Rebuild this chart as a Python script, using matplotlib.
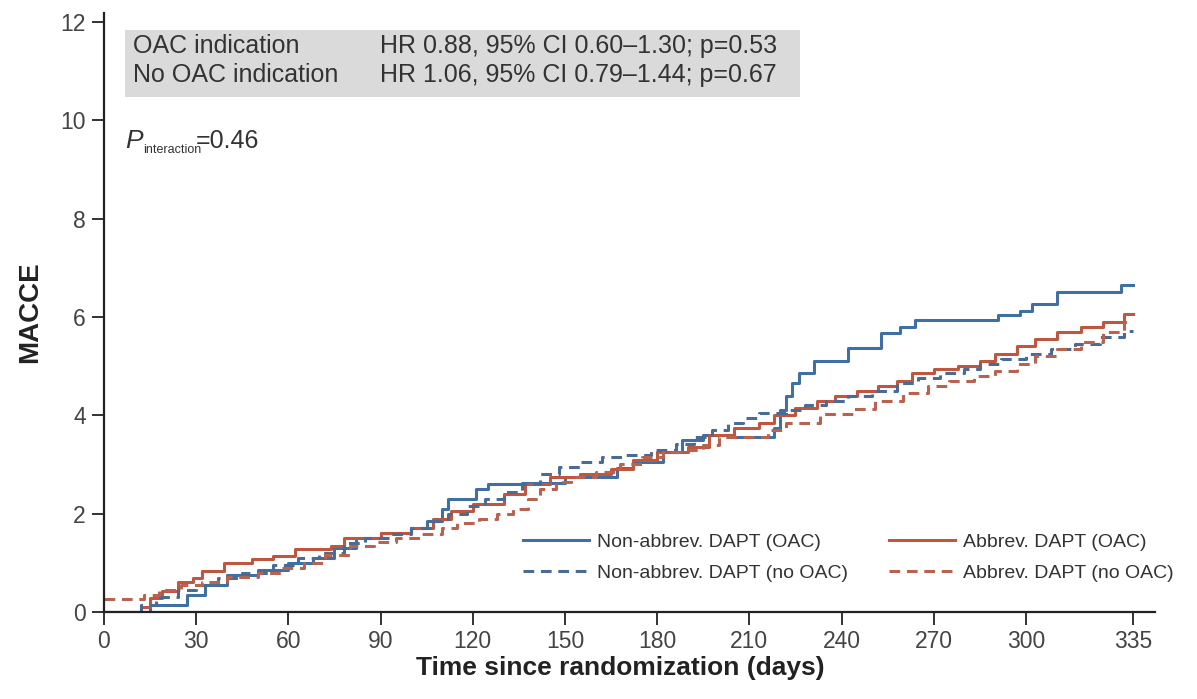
import matplotlib
matplotlib.use("Agg")
import matplotlib.pyplot as plt
from matplotlib.patches import Rectangle

plt.rcParams['font.family'] = ['Liberation Sans', 'DejaVu Sans']

# ---- data (days, cumulative MACCE %) ----
blue_solid_t = [0, 15, 27, 33, 40, 50, 60, 68, 75, 82, 90, 100, 105, 110, 112, 121, 125, 136,
                150, 167, 172, 182, 188, 195, 205, 218, 220, 222, 224, 226, 231, 242, 253, 259,
                264, 291, 298, 302, 310, 331, 335]
blue_solid_v = [0, 0.15, 0.35, 0.55, 0.75, 0.85, 1.0, 1.1, 1.3, 1.5, 1.6, 1.7, 1.85, 2.1, 2.3, 2.5,
                2.6, 2.62, 2.75, 2.93, 3.05, 3.25, 3.5, 3.6, 3.55, 3.75, 4.1, 4.4, 4.65, 4.85, 5.11,
                5.36, 5.68, 5.79, 5.93, 6.03, 6.13, 6.27, 6.5, 6.64, 6.64]

red_solid_t = [0, 12, 15, 19, 24, 29, 32, 39, 48, 55, 62, 74, 78, 90, 100, 107, 113, 120, 130,
               137, 145, 155, 165, 172, 180, 190, 197, 205, 213, 218, 225, 232, 238, 245, 252,
               258, 263, 270, 278, 285, 290, 297, 303, 310, 318, 325, 332, 335]
red_solid_v = [0, 0.1, 0.29, 0.43, 0.6, 0.7, 0.84, 1.0, 1.08, 1.14, 1.28, 1.35, 1.5, 1.6, 1.7, 1.9,
               2.05, 2.2, 2.4, 2.6, 2.75, 2.8, 2.9, 3.1, 3.25, 3.35, 3.6, 3.75, 3.85, 4.0, 4.15, 4.3,
               4.4, 4.5, 4.6, 4.7, 4.85, 4.95, 5.0, 5.1, 5.25, 5.4, 5.55, 5.7, 5.8, 5.9, 6.05, 6.05]

blue_dash_t = [0, 12, 17, 24, 30, 37, 45, 55, 63, 70, 78, 85, 93, 100, 106, 112, 118, 124, 130,
               136, 142, 148, 155, 162, 170, 178, 186, 192, 198, 203, 208, 213, 222, 228, 235,
               242, 250, 258, 265, 272, 280, 285, 292, 300, 308, 316, 324, 332, 335]
blue_dash_v = [0, 0.15, 0.3, 0.45, 0.55, 0.7, 0.8, 0.95, 1.1, 1.2, 1.4, 1.5, 1.58, 1.7, 1.85, 2.0,
               2.15, 2.3, 2.45, 2.6, 2.8, 2.95, 3.05, 3.15, 3.2, 3.3, 3.42, 3.55, 3.7, 3.85, 3.95,
               4.05, 4.1, 4.2, 4.3, 4.4, 4.5, 4.65, 4.75, 4.85, 4.95, 5.05, 5.15, 5.25, 5.35, 5.45,
               5.6, 5.72, 5.72]

red_dash_t = [0, 13, 18, 25, 32, 40, 50, 58, 65, 72, 80, 88, 95, 103, 110, 115, 122, 128, 133,
              138, 142, 147, 152, 160, 168, 175, 182, 188, 195, 200, 216, 222, 233, 244, 251, 260,
              268, 275, 283, 290, 297, 303, 310, 318, 325, 332, 335]
red_dash_v = [0.27, 0.35, 0.45, 0.55, 0.62, 0.72, 0.8, 0.9, 1.0, 1.15, 1.35, 1.42, 1.5, 1.58, 1.7,
              1.8, 1.9, 2.0, 2.1, 2.3, 2.5, 2.65, 2.75, 2.85, 3.0, 3.15, 3.25, 3.3, 3.4, 3.55, 3.7,
              3.85, 4.03, 4.13, 4.3, 4.46, 4.6, 4.7, 4.8, 4.9, 5.05, 5.2, 5.35, 5.5, 5.7, 5.9, 5.9]

labels = ["Non-abbrev. DAPT (OAC)", "Abbrev. DAPT (OAC)",
          "Non-abbrev. DAPT (no OAC)", "Abbrev. DAPT (no OAC)"]
x_ticks = [0, 30, 60, 90, 120, 150, 180, 210, 240, 270, 300, 335]
y_ticks = [0, 2, 4, 6, 8, 10, 12]
box_left = ["OAC indication", "No OAC indication"]
box_right = ["HR 0.88, 95% CI 0.60\u20131.30; p=0.53", "HR 1.06, 95% CI 0.79\u20131.44; p=0.67"]

BLUE = "#3f6fa3"
RED = "#bf5640"
BLUE_D = "#4a6b92"
RED_D = "#b86250"

W, H = 1197, 699
fig = plt.figure(figsize=(W/100, H/100), dpi=100)
ax = fig.add_axes([104/W, 1-612/H, (1155-104)/W, (612-13)/H])

lw = 2.2
h_bs, = ax.step(blue_solid_t, blue_solid_v, where='post', color=BLUE, lw=lw)
h_rs, = ax.step(red_solid_t, red_solid_v, where='post', color=RED, lw=lw)
h_bd, = ax.step(blue_dash_t, blue_dash_v, where='post', color=BLUE_D, lw=lw, ls=(0, (3.5, 2.2)))
h_rd, = ax.step(red_dash_t, red_dash_v, where='post', color=RED_D, lw=lw, ls=(0, (3.5, 2.2)))

ax.set_xlim(0, 342)
ax.set_ylim(0, 12.18)
ax.set_xticks(x_ticks)
ax.set_yticks(y_ticks)
for s in ['top', 'right']:
    ax.spines[s].set_visible(False)
for s in ['left', 'bottom']:
    ax.spines[s].set_linewidth(1.6)
    ax.spines[s].set_color('#222222')
ax.tick_params(axis='both', direction='out', length=9, width=1.3, color='#222222',
               labelsize=16.5, labelcolor='#444444', pad=4)

ax.set_ylabel("MACCE", fontsize=20, fontweight='bold', color='#222222')
ax.yaxis.set_label_coords(-(104-43)/(1155-104), 0.5)
ax.set_xlabel("Time since randomization (days)", fontsize=19, fontweight='bold',
              color='#222222')
ax.xaxis.set_label_coords((620-104)/(1155-104), -(656-612)/(612-13))

# annotation box
ax.add_patch(Rectangle((125/W, 1-97/H), (800-125)/W, (97-30)/H,
                       transform=fig.transFigure, facecolor='#dadada', edgecolor='none',
                       zorder=0, clip_on=False))
for i in range(2):
    y = 1 - (46 + i*29)/H
    fig.text(133/W, y, box_left[i], fontsize=18, color='#333333', va='center')
    fig.text(380/W, y, box_right[i], fontsize=18, color='#333333', va='center')

# P_interaction
fig.text(125/W, 1-148/H, "P", fontsize=19, style='italic', color='#333333', va='baseline')
fig.text(143/W, 1-153/H, "interaction", fontsize=9, color='#333333', va='baseline')
fig.text(196/W, 1-148/H, "=0.46", fontsize=18, color='#333333', va='baseline')

leg = fig.legend([h_bs, h_bd, h_rs, h_rd],
                 [labels[0], labels[2], labels[1], labels[3]], ncol=2, loc='upper left',
                 bbox_to_anchor=(523/W, 1-533/H), bbox_transform=fig.transFigure,
                 frameon=False, fontsize=14, handlelength=3.4, handletextpad=0.4,
                 columnspacing=2.1, labelspacing=0.72, borderpad=0, borderaxespad=0)
for t in leg.get_texts():
    t.set_color('#333333')

fig.savefig("out.png", dpi=100)
